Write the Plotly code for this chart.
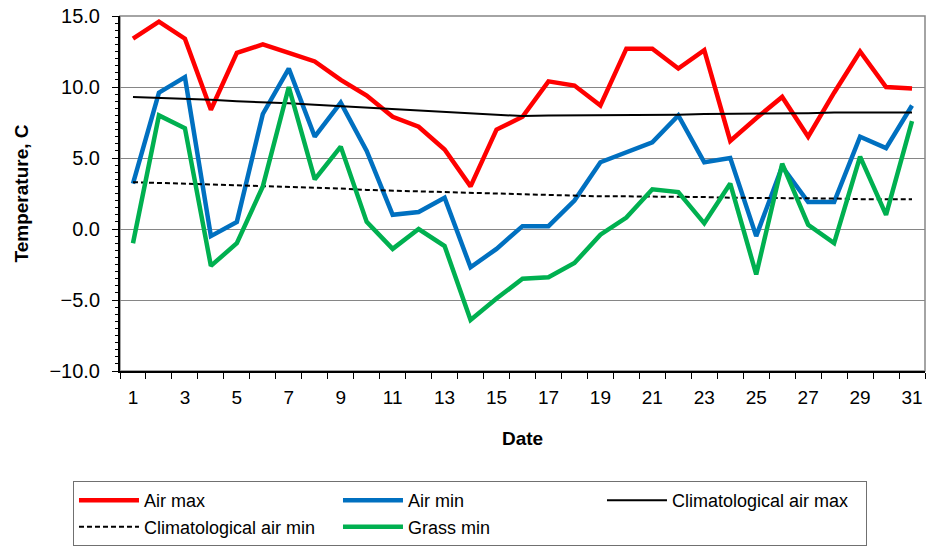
import plotly.graph_objects as go

days = list(range(1, 32))
air_max = [13.4, 14.6, 13.4, 8.4, 12.4, 13.0, 12.4, 11.8, 10.5, 9.4, 7.9, 7.2, 5.6, 3.0, 7.0,
           7.9, 10.4, 10.1, 8.7, 12.7, 12.7, 11.3, 12.6, 6.2, 7.8, 9.3, 6.5, 9.6, 12.5, 10.0, 9.9]
air_min = [3.2, 9.6, 10.7, -0.5, 0.5, 8.1, 11.3, 6.5, 8.9, 5.5, 1.0, 1.2, 2.2, -2.7, -1.4,
           0.2, 0.2, 2.0, 4.7, 5.4, 6.1, 8.0, 4.7, 5.0, -0.5, 4.4, 1.9, 1.9, 6.5, 5.7, 8.7]
clim_max = [9.3, 9.25, 9.2, 9.1, 9.0, 8.95, 8.85, 8.75, 8.65, 8.55, 8.45, 8.35, 8.25, 8.15, 8.05,
            7.95, 8.0, 8.0, 8.0, 8.05, 8.05, 8.05, 8.1, 8.1, 8.1, 8.15, 8.15, 8.2, 8.2, 8.2, 8.2]
clim_min = [3.3, 3.25, 3.2, 3.1, 3.05, 3.0, 2.95, 2.9, 2.85, 2.75, 2.7, 2.65, 2.6, 2.5, 2.45,
            2.4, 2.35, 2.35, 2.3, 2.3, 2.3, 2.25, 2.25, 2.2, 2.2, 2.2, 2.15, 2.15, 2.1, 2.1, 2.1]
grass_min = [-1.0, 8.0, 7.1, -2.6, -1.0, 3.0, 10.0, 3.5, 5.8, 0.5, -1.4, 0.0, -1.2, -6.4, -4.9,
             -3.5, -3.4, -2.4, -0.4, 0.8, 2.8, 2.6, 0.4, 3.2, -3.2, 4.6, 0.3, -1.0, 5.1, 1.0, 7.6]
x_tick_labels = [str(d) for d in range(1, 32, 2)]
y_ticks = [-10, -5, 0, 5, 10, 15]

FONT = "Liberation Sans, Arial, sans-serif"

fig = go.Figure()
fig.add_trace(go.Scatter(x=days, y=air_max, mode="lines", name="Air max",
                         line=dict(color="#FF0000", width=4.5)))
fig.add_trace(go.Scatter(x=days, y=air_min, mode="lines", name="Air min",
                         line=dict(color="#0070C0", width=4.5)))
fig.add_trace(go.Scatter(x=days, y=clim_max, mode="lines", name="Climatological air max",
                         line=dict(color="#000000", width=2)))
fig.add_trace(go.Scatter(x=days, y=clim_min, mode="lines", name="Climatological air min",
                         line=dict(color="#000000", width=2, dash="5px,3px")))
fig.add_trace(go.Scatter(x=days, y=grass_min, mode="lines", name="Grass min",
                         line=dict(color="#00B050", width=4.5)))

# plot area border (gray top/right)
fig.add_shape(type="rect", xref="paper", yref="paper", x0=0, x1=1, y0=0, y1=1,
              line=dict(color="#868686", width=1.5), layer="below")

fig.update_layout(
    width=926, height=549,
    margin=dict(l=120, r=1, t=16, b=178, autoexpand=False),
    paper_bgcolor="white", plot_bgcolor="white",
    font=dict(family=FONT, size=18, color="black"),
    showlegend=True,
    legend=dict(
        orientation="h", x=-0.0584, y=-0.310, xanchor="left", yanchor="top",
        bordercolor="#707070", borderwidth=1, bgcolor="white",
        font=dict(family=FONT, size=18, color="black"),
        entrywidth=189, entrywidthmode="pixels",
        itemwidth=60, tracegroupgap=0,
    ),
)

fig.update_xaxes(
    range=[0.5, 31.5], tickmode="array",
    tickvals=list(range(1, 32, 2)), ticktext=x_tick_labels,
    ticks="", showgrid=False, zeroline=False,
    showline=True, linecolor="black", linewidth=2,
    tickfont=dict(family=FONT, size=19),
    ticklabelstandoff=8,
    minor=dict(tickmode="array", tickvals=[d - 0.5 for d in range(1, 33)],
               ticks="outside", ticklen=6, tickcolor="black", tickwidth=1, showgrid=False),
    title=dict(text="<b>Date</b>", font=dict(family=FONT, size=19), standoff=25),
)
fig.update_yaxes(
    range=[-10, 15], tickmode="array", tickvals=y_ticks,
    tickformat=".1f", ticks="outside", ticklen=6, tickcolor="black", tickwidth=1,
    showgrid=True, gridcolor="#868686", gridwidth=1, zeroline=False,
    showline=True, linecolor="black", linewidth=2,
    tickfont=dict(family=FONT, size=20),
    ticklabelstandoff=8,
    minor=dict(dtick=0.5, tick0=0, ticks="outside", ticklen=3, tickcolor="black",
               tickwidth=1, showgrid=False),
    title=dict(text="<b>Temperature, C</b>", font=dict(family=FONT, size=19), standoff=16),
)

fig.write_html("out.html", config={"displayModeBar": False},
               post_script="document.body.style.margin='0';document.body.style.overflow='hidden';")
